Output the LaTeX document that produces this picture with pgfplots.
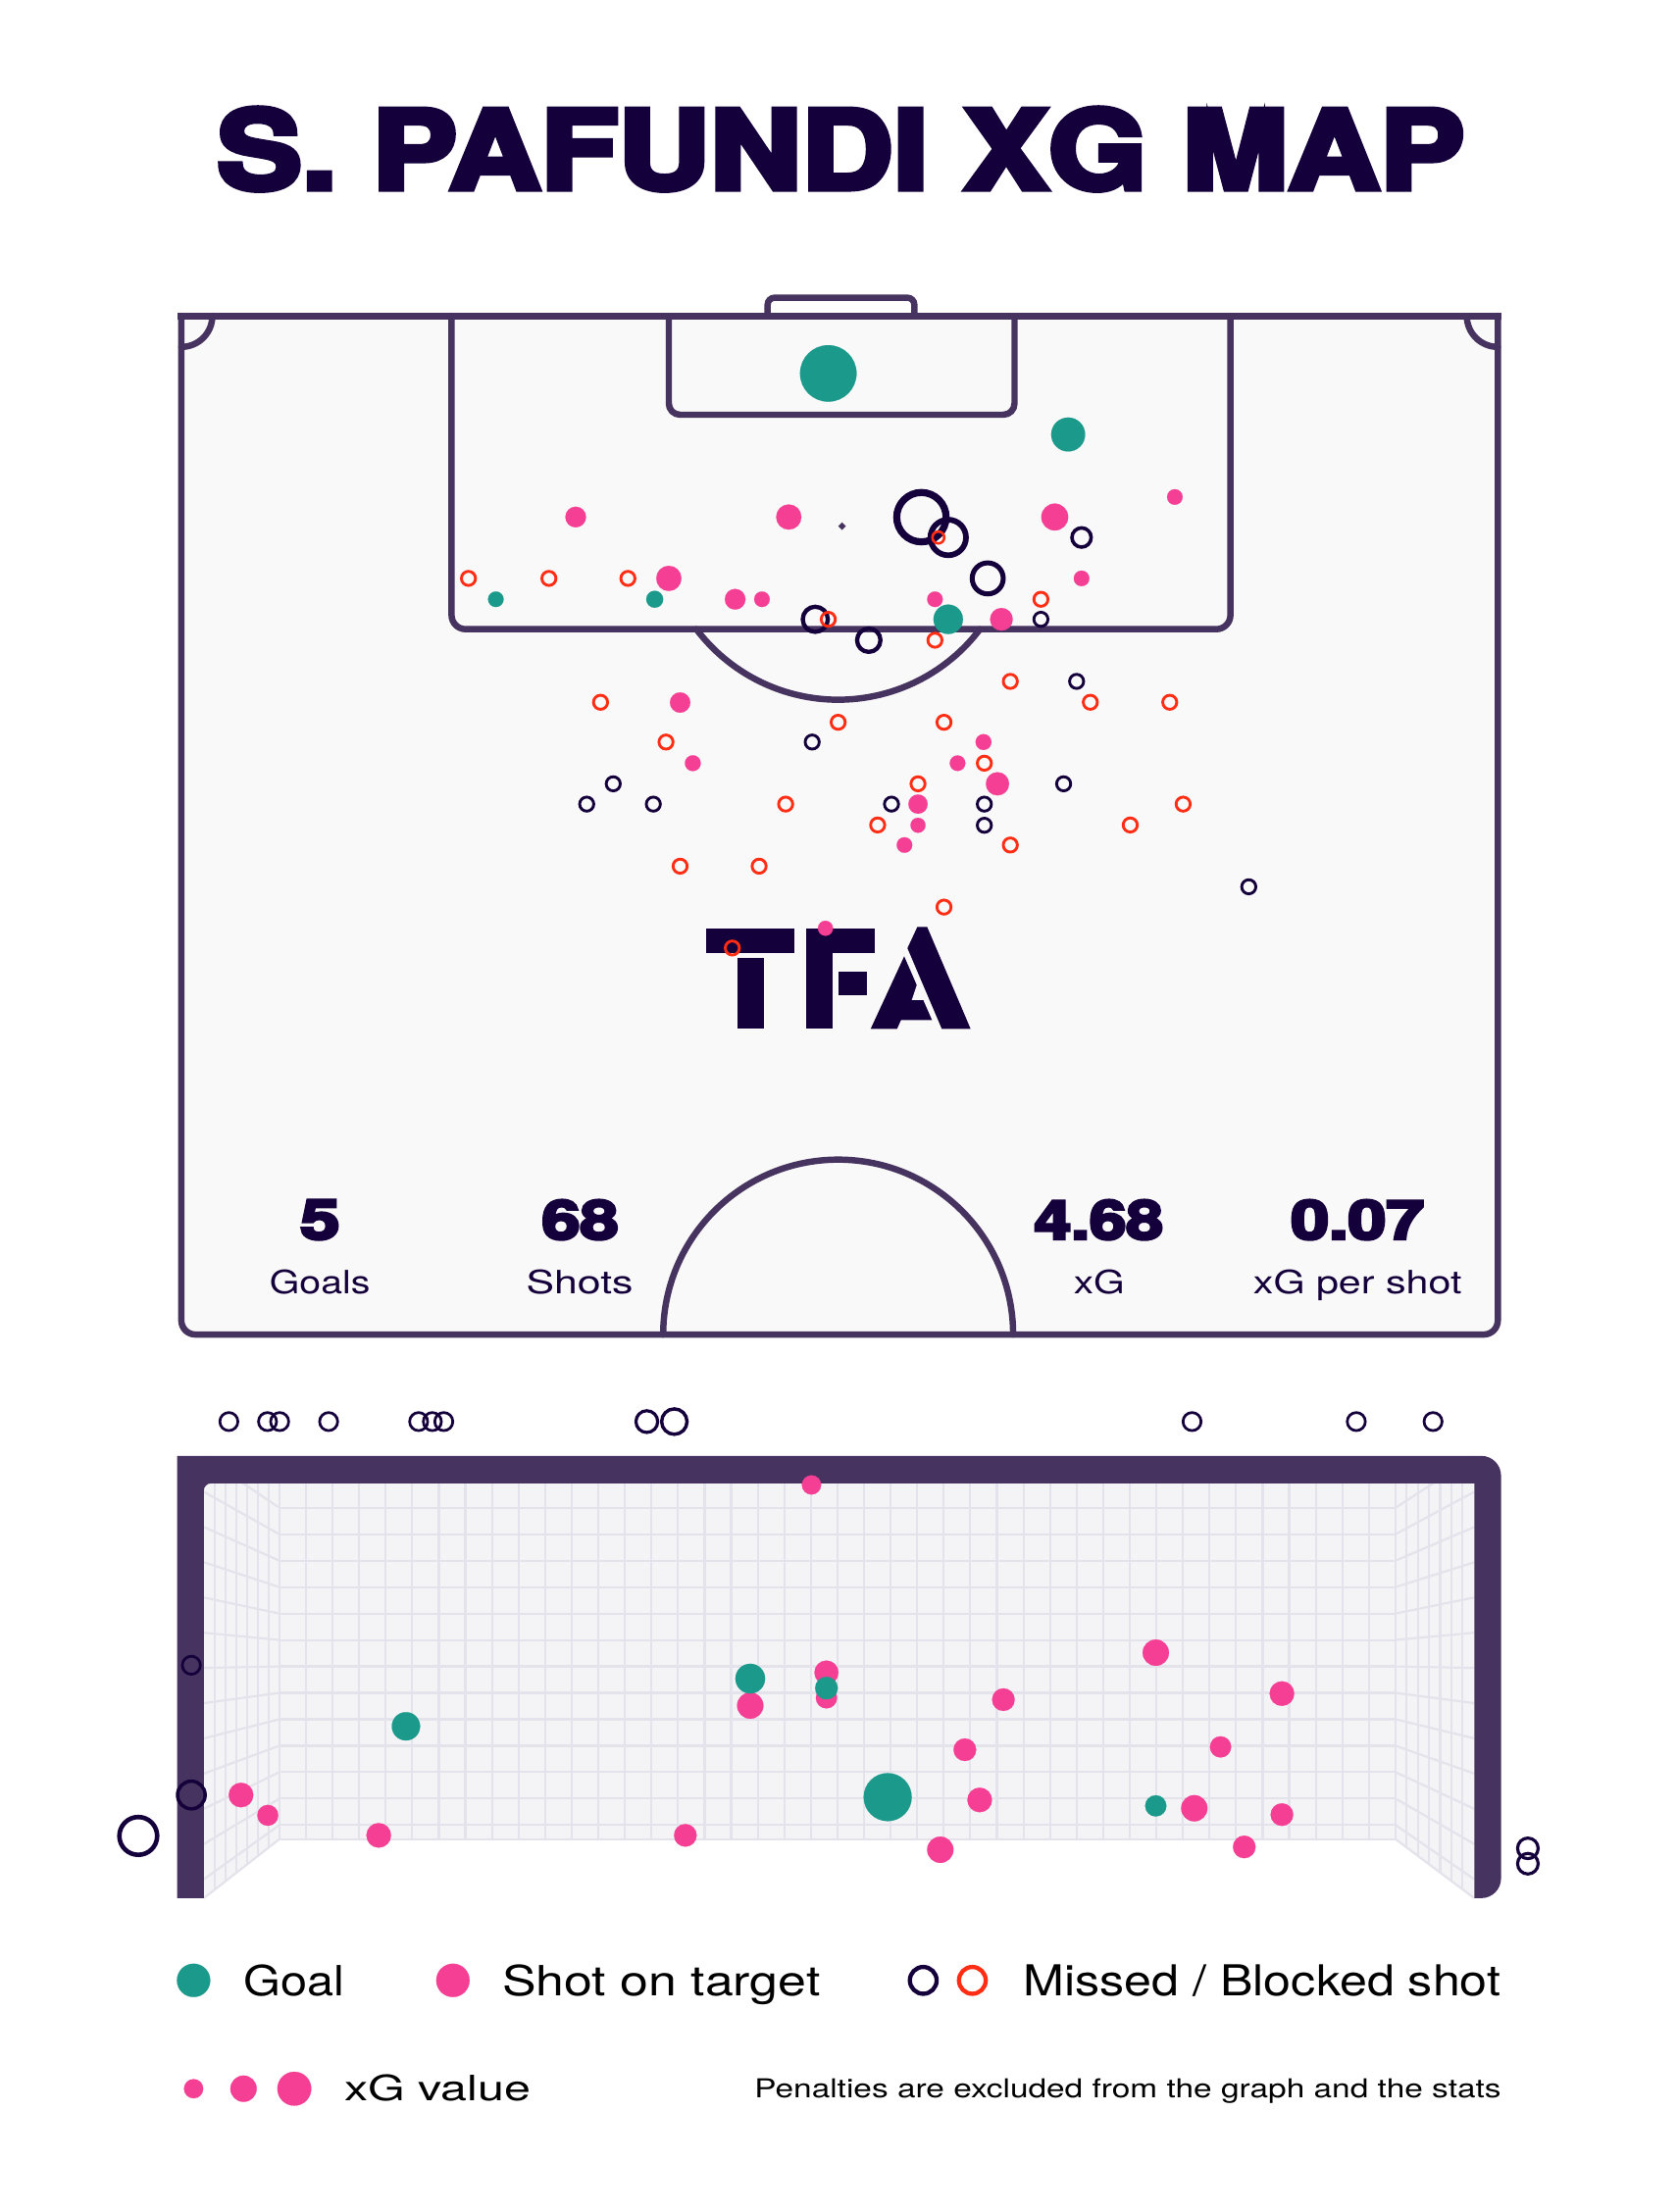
\documentclass[border=0pt]{standalone}
\usepackage{pgfplots}
\pgfplotsset{compat=1.18}
\usepackage{graphicx}
\usepackage{fontspec}
\newfontfamily\hfont{TeX Gyre Heros}[BoldFeatures={FakeBold=5}]
\definecolor{goalc}{HTML}{1B998B}
\definecolor{pinkc}{HTML}{F53F95}
\definecolor{navyc}{HTML}{14003A}
\definecolor{redc}{HTML}{FF2D14}
\definecolor{linec}{HTML}{46335F}
\definecolor{pitchc}{HTML}{F9F9F9}
\definecolor{netc}{HTML}{F4F4F7}
\definecolor{gridc}{HTML}{E4E2EA}
\pgfplotsset{
  filled/.style={only marks, scatter, mark=*,
    scatter/use mapped color={draw=#1, fill=#1},
    mark options={line width=0.1pt},
    visualization depends on={\thisrow{r}\as\rr},
    scatter/@pre marker code/.append style={/tikz/mark size=\rr}},
  rg/.style n args={3}{only marks, mark=o, mark size=#2,
    mark options={solid, draw=#1, fill=none, line width=#3}},
}
% ---------- data (display pixel coordinates, y downward) ----------
\pgfplotstableread{
x y r
587 264.7 20
757 308 12
672 439 10.4
351.4 424.8 5.5
464 424.8 6
}\pitchgoals
\pgfplotstableread{
x y r
408 366.5 7.3
559 366.5 8.9
747.5 366.5 9.5
832.6 352.3 5.5
474 410 8.9
766.5 410 5.5
521 424.8 7.3
540 424.8 5.5
662.6 424.8 5.5
709.7 439 8
482 498 7.2
491 541 5.6
697 526 5.6
678.6 541 5.5
706.9 555.6 8.2
650.6 570 6.8
650.6 585 5.3
641 599 5.5
585 658 5.3
}\pitchontarget
\pgfplotstableread{
x y
737.7 439
763 483
575.6 526
434.6 555.6
415.8 570
463 570
631.8 570
697.6 570
697.6 585
753.8 555.6
885 628.6
}\pitchmissedsmall
\pgfplotstableread{
x y
332 410
389 410
445 410
737.7 424.8
587 439
662.6 453.8
425.6 497.8
716 483
772.7 497.8
829 497.8
594 512
669 512
472 526
697.6 541
650.6 555.6
556.8 570
838.5 570
622 584.8
801 584.8
716 599
482 614
538 614
669 643
519 672
}\pitchblocked
\pgfplotstableread{
x y r
531.7 1189.9 10.5
585.7 1196.6 8
287.7 1223.7 10
629.1 1273.9 17
819.1 1280.1 7.5
}\goalgoals
\pgfplotstableread{
x y r
575.1 1052.6 6.8
585.7 1185.6 8.5
585.7 1203.5 7.5
531.7 1209 9.3
711.1 1204.8 8
819.1 1171.5 9.3
908.5 1200.5 8.7
683.8 1240.3 8
865.0 1238.3 7.5
694.3 1275.9 8.7
846.4 1281.8 9.3
908.5 1286.3 8
666.4 1311.2 9.3
881.8 1309.2 8
485.7 1301 8
268.4 1301 8.7
170.8 1272.4 8.7
189.8 1286.8 7.4
}\goalontarget
\pgfplotstableread{
x y
162.2 1007.7
189.6 1007.7
198.2 1007.7
232.9 1007.7
296.7 1007.7
306.4 1007.7
314.5 1007.7
844.8 1007.7
961.2 1007.7
1015.6 1007.7
135.6 1180.4
}\goalmissedsmall
\begin{document}
\begin{tikzpicture}
\begin{axis}[scale only axis, width=1189pt, height=1568pt,
  xmin=0, xmax=1189, ymin=0, ymax=1568, y dir=reverse,
  hide axis, clip=false]
\path (axis cs:0,0) (axis cs:1189,1568);
% ---------- title ----------
\node[anchor=base west, inner sep=0pt, text=navyc] at (axis cs:153.7,134)
  {\resizebox{884pt}{57.5pt}{\hfont\bfseries S. PAFUNDI XG MAP}};
% ---------- pitch ----------
\fill[pitchc] (axis cs:128.5,223.9) rectangle (axis cs:1061.5,946);
\begin{scope}[line width=4.5pt, draw=linec, line cap=round]
\draw[rounded corners=10pt] (axis cs:128.5,223.9) -- (axis cs:128.5,946) -- (axis cs:1061.5,946) -- (axis cs:1061.5,223.9);
\draw[line width=5pt, line cap=butt] (axis cs:126,223.9) -- (axis cs:1064,223.9);
\draw[rounded corners=10pt] (axis cs:320,223.9) -- (axis cs:320,446) -- (axis cs:872,446) -- (axis cs:872,223.9);
\draw[rounded corners=8pt] (axis cs:474,223.9) -- (axis cs:474,294) -- (axis cs:719,294) -- (axis cs:719,223.9);
\draw[rounded corners=5pt] (axis cs:544,223.9) -- (axis cs:544,211) -- (axis cs:648,211) -- (axis cs:648,223.9);
\draw (axis cs:694.5,446) arc[start angle=-37.1, end angle=-142.9, radius=126pt];
\draw (axis cs:718,946) arc[start angle=0, end angle=180, radius=124pt];
\draw (axis cs:150.5,223.9) arc[start angle=0, end angle=-90, radius=22pt];
\draw (axis cs:1039.5,223.9) arc[start angle=180, end angle=270, radius=22pt];
\end{scope}
% ---------- logo ----------
\fill[navyc] (axis cs:500.6,658.2) rectangle (axis cs:563.2,675.6);
\fill[navyc] (axis cs:522.6,679.1) rectangle (axis cs:541.2,729.4);
\fill[navyc] (axis cs:571.3,658.2) rectangle (axis cs:589.8,729.4);
\fill[navyc] (axis cs:571.3,658.2) rectangle (axis cs:620,675.6);
\fill[navyc] (axis cs:594.5,688.8) rectangle (axis cs:614.2,705.3);
\fill[navyc] (axis cs:617.0,729.4) -- (axis cs:640.8,677.9) -- (axis cs:660.5,723.1) -- (axis cs:638.5,723.1) -- (axis cs:635.7,729.4) -- cycle;
\fill[pitchc] (axis cs:650.1,697.2) -- (axis cs:646.2,708.8) -- (axis cs:654.7,708.8) -- cycle;
\fill[navyc] (axis cs:643.1,672.1) -- (axis cs:650.1,657.1) -- (axis cs:657.1,657.1) -- (axis cs:687.9,729.4) -- (axis cs:667.5,729.4) -- cycle;
% ---------- stats ----------
\node[anchor=base west, inner sep=0pt, text=navyc] at (axis cs:212.6,878.4) {\resizebox{28pt}{27.8pt}{\hfont\bfseries 5}};
\node[anchor=base west, inner sep=0pt, text=navyc] at (axis cs:383.8,878.4) {\resizebox{54.2pt}{27.8pt}{\hfont\bfseries 68}};
\node[anchor=base west, inner sep=0pt, text=navyc] at (axis cs:732.8,878.4) {\resizebox{91.2pt}{27.8pt}{\hfont\bfseries 4.68}};
\node[anchor=base west, inner sep=0pt, text=navyc] at (axis cs:914.7,878.4) {\resizebox{94.3pt}{27.8pt}{\hfont\bfseries 0.07}};
\node[anchor=base west, inner sep=0pt, text=navyc] at (axis cs:190.9,917.4) {\resizebox{71.2pt}{17pt}{\hfont Goals}};
\node[anchor=base west, inner sep=0pt, text=navyc] at (axis cs:372.7,917.4) {\resizebox{75.8pt}{17pt}{\hfont Shots}};
\node[anchor=base west, inner sep=0pt, text=navyc] at (axis cs:760.7,917.4) {\resizebox{36.1pt}{17pt}{\hfont xG}};
\node[anchor=base west, inner sep=0pt, text=navyc] at (axis cs:888,917.4) {\resizebox{147.7pt}{17pt}{\hfont xG per shot}};
% ---------- goal frame & net ----------
\fill[netc] (axis cs:144.5,1051.5) -- (axis cs:1044.8,1051.5) -- (axis cs:1044.8,1345.5) -- (axis cs:989,1303.7) -- (axis cs:198,1303.7) -- (axis cs:144.5,1345.5) -- cycle;
\begin{scope}[draw=gridc, line width=1.5pt]
\pgfplotsinvokeforeach{0,...,42}{\draw (axis cs:{198+#1*18.833},1051.5) -- (axis cs:{198+#1*18.833},1303.7);}
\pgfplotsinvokeforeach{0,...,12}{
  \draw (axis cs:198,{1068.8+#1*18.74}) -- (axis cs:989,{1068.8+#1*18.74});
  \draw (axis cs:198,{1068.8+#1*18.74}) -- (axis cs:144.5,{1178+(1068.8+#1*18.74-1178)*1.332});
  \draw (axis cs:989,{1068.8+#1*18.74}) -- (axis cs:1044.8,{1178+(1068.8+#1*18.74-1178)*1.332});
}
\pgfplotsinvokeforeach{1,...,6}{
  \draw (axis cs:{144.5+#1*7.7},1051.5) -- (axis cs:{144.5+#1*7.7},{1303.7+(198-144.5-#1*7.7)*0.781});
  \draw (axis cs:{989+#1*7.9},1051.5) -- (axis cs:{989+#1*7.9},{1303.7+(#1*7.9)*0.749});
}
\draw (axis cs:198,1303.7) -- (axis cs:989,1303.7);
\draw (axis cs:198,1303.7) -- (axis cs:144.5,1345.5);
\draw (axis cs:989,1303.7) -- (axis cs:1044.8,1345.5);
\end{scope}
\fill[linec] (axis cs:144.5,1345.5) -- (axis cs:125.5,1345.5) -- (axis cs:125.5,1032) [rounded corners=14pt] -- (axis cs:1063.8,1032) -- (axis cs:1063.8,1345.5) [sharp corners] -- (axis cs:1044.8,1345.5) -- (axis cs:1044.8,1051.5) [rounded corners=5pt] -- (axis cs:144.5,1051.5) -- (axis cs:144.5,1345.5) [sharp corners] -- cycle;
% ---------- shots on the pitch ----------
\addplot[filled=pinkc] table[x=x,y=y] {\pitchontarget};
\addplot[filled=goalc] table[x=x,y=y] {\pitchgoals};
\addplot[rg={navyc}{17.5pt}{5pt}] coordinates {(653,366.6)};
\addplot[rg={navyc}{12.6pt}{4pt}] coordinates {(672,381)};
\addplot[rg={navyc}{11pt}{3.5pt}] coordinates {(700,410)};
\addplot[rg={navyc}{8.9pt}{3pt}] coordinates {(577.8,439)};
\addplot[rg={navyc}{8.3pt}{3pt}] coordinates {(615.7,453.8)};
\addplot[rg={navyc}{6.8pt}{2.5pt}] coordinates {(766.5,381)};
\addplot[rg={linec}{1pt}{2.4pt}] coordinates {(596.8,373)};
\addplot[rg={navyc}{5pt}{2pt}] table[x=x,y=y] {\pitchmissedsmall};
\addplot[rg={redc}{5pt}{2pt}] table[x=x,y=y] {\pitchblocked};
\addplot[rg={redc}{4.2pt}{1.8pt}] coordinates {(665,381)};
% ---------- shots in goal view ----------
\addplot[filled=pinkc] table[x=x,y=y] {\goalontarget};
\addplot[filled=goalc] table[x=x,y=y] {\goalgoals};
\addplot[rg={navyc}{6.4pt}{1.9pt}] table[x=x,y=y] {\goalmissedsmall};
\addplot[rg={navyc}{7.7pt}{2.2pt}] coordinates {(458.4,1007.7)};
\addplot[rg={navyc}{9pt}{2.4pt}] coordinates {(477.9,1007.7)};
\addplot[rg={navyc}{9.8pt}{2.4pt}] coordinates {(135.6,1272.4)};
\addplot[rg={navyc}{13.4pt}{3.2pt}] coordinates {(98,1301.4)};
\addplot[rg={navyc}{7.3pt}{2.2pt}] coordinates {(1082.8,1310.2) (1082.8,1321.1)};
% ---------- legend ----------
\addplot[filled=goalc] table[x=x,y=y] {
x y r
137.2 1403.8 11.8
};
\addplot[filled=pinkc] table[x=x,y=y] {
x y r
321 1403.8 11.8
137.2 1480.6 6.8
172.6 1480.6 9.3
208.6 1480.6 12
};
\addplot[rg={navyc}{9.5pt}{3pt}] coordinates {(654.3,1403.8)};
\addplot[rg={redc}{9.5pt}{3pt}] coordinates {(689.1,1403.8)};
\node[anchor=base west, inner sep=0pt] at (axis cs:172.6,1415) {\resizebox{71.4pt}{22pt}{\hfont Goal}};
\node[anchor=base west, inner sep=0pt] at (axis cs:355.7,1415) {\resizebox{225.4pt}{22pt}{\hfont Shot on target}};
\node[anchor=base west, inner sep=0pt] at (axis cs:725,1415) {\resizebox{338.4pt}{22pt}{\hfont Missed / Blocked shot}};
\node[anchor=base west, inner sep=0pt] at (axis cs:244,1489) {\resizebox{132pt}{18.5pt}{\hfont xG value}};
\node[anchor=base west, inner sep=0pt] at (axis cs:534.5,1487.3) {\resizebox{529pt}{13.5pt}{\hfont Penalties are excluded from the graph and the stats}};
\end{axis}
\end{tikzpicture}
\end{document}
